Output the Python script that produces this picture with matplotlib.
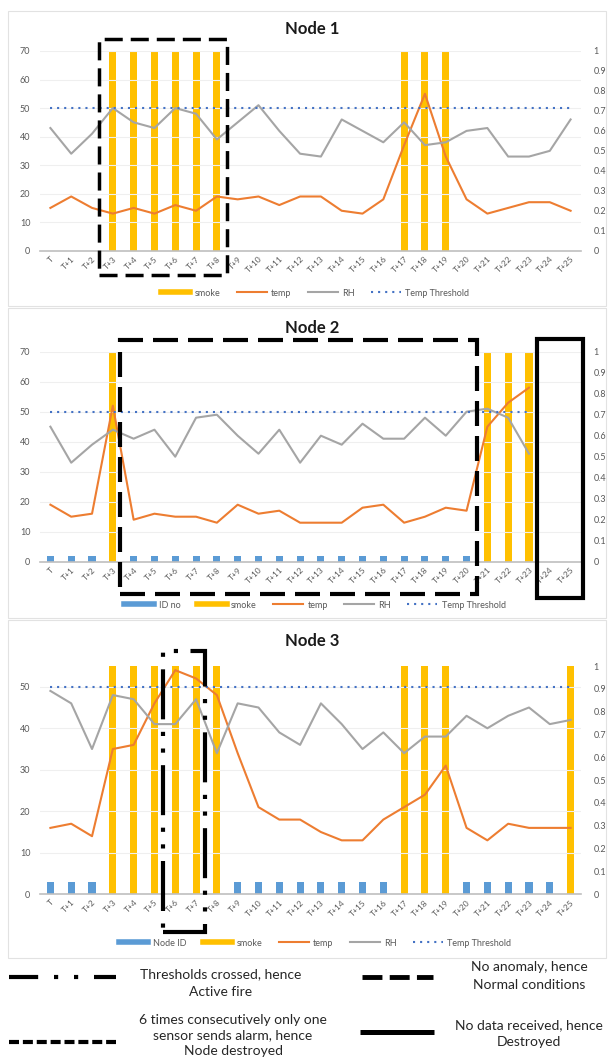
import numpy as np
import matplotlib

matplotlib.use("Agg")
import matplotlib.pyplot as plt
from matplotlib.lines import Line2D
from matplotlib.patches import Rectangle

plt.rcParams["font.family"] = ["Lato", "DejaVu Sans"]

W, H = 608, 1059

LABELS = ["T"] + [f"T+{i}" for i in range(1, 26)]
NAN = np.nan

node1_smoke = [0, 0, 0, 1, 1, 1, 1, 1, 1, 0, 0, 0, 0, 0, 0, 0, 0, 1, 1, 1, 0, 0, 0, 0, 0, 0]
node1_temp = [15, 19, 15, 13, 15, 13, 16, 14, 19, 18, 19, 16, 19, 19, 14, 13, 18, 37, 55, 33, 18, 13, 15, 17, 17, 14]
node1_rh = [43, 34, 41, 50, 45, 43, 50, 48, 39, 45, 51, 42, 34, 33, 46, 42, 38, 45, 37, 38, 42, 43, 33, 33, 35, 46]
node1_thr = [50] * 26

node2_id = [2, 2, 2, 0, 2, 2, 2, 2, 2, 2, 2, 2, 2, 2, 2, 2, 2, 2, 2, 2, 2, 0, 0, 0, 0, 0]
node2_smoke = [0, 0, 0, 1, 0, 0, 0, 0, 0, 0, 0, 0, 0, 0, 0, 0, 0, 0, 0, 0, 0, 1, 1, 1, 0, 0]
node2_temp = [19, 15, 16, 52, 14, 16, 15, 15, 13, 19, 16, 17, 13, 13, 13, 18, 19, 13, 15, 18, 17, 45, 53, 58, NAN, NAN]
node2_rh = [45, 33, 39, 44, 41, 44, 35, 48, 49, 42, 36, 44, 33, 42, 39, 46, 41, 41, 48, 42, 50, 51, 48, 36, NAN, NAN]
node2_thr = [50] * 24 + [NAN, NAN]

node3_id = [3, 3, 3, 0, 0, 0, 0, 0, 0, 3, 3, 3, 3, 3, 3, 3, 3, 0, 0, 0, 3, 3, 3, 3, 3, 0]
node3_smoke = [0, 0, 0, 1, 1, 1, 1, 1, 1, 0, 0, 0, 0, 0, 0, 0, 0, 1, 1, 1, 0, 0, 0, 0, 0, 1]
node3_temp = [16, 17, 14, 35, 36, 46, 54, 52, 48, 34, 21, 18, 18, 15, 13, 13, 18, 21, 24, 31, 16, 13, 17, 16, 16, 16]
node3_rh = [49, 46, 35, 48, 47, 41, 41, 47, 34, 46, 45, 39, 36, 46, 41, 35, 39, 34, 38, 38, 43, 40, 43, 45, 41, 42]
node3_thr = [50] * 26

C_ID = "#5B9BD5"
C_SMOKE = "#FFC000"
C_TEMP = "#ED7D31"
C_RH = "#A5A5A5"
C_THR = "#4472C4"
C_TXT = "#595959"


def fx(px):
    return px / W


def fy(py):
    return 1 - py / H


def rect(left, top, right, bottom):
    return [fx(left), fy(bottom), (right - left) / W, (bottom - top) / H]


def draw_node(fig, title, area, ymax, yticks, smoke, temp, rh, thr, node_id=None, id_label=None,
              title_y=0, legend_y=0):
    x = np.arange(len(LABELS))
    ax = fig.add_axes(rect(*area))
    ax2 = ax.twinx()
    ax.set_zorder(ax2.get_zorder() + 1)
    ax.patch.set_visible(False)

    ax2.bar(x, smoke, width=0.34, color=C_SMOKE, zorder=1)
    if node_id is not None:
        ax.bar(x, node_id, width=0.34, color=C_ID, zorder=2)
    ax.plot(x, temp, color=C_TEMP, lw=1.5, zorder=3)
    ax.plot(x, rh, color=C_RH, lw=1.5, zorder=3)
    ax.plot(x, thr, color=C_THR, lw=1.5, ls=(0, (1, 2.4)), zorder=3)

    ax.set_xlim(-0.5, len(LABELS) - 0.5)
    ax.set_ylim(0, ymax)
    ax2.set_ylim(0, 1)
    ax.set_yticks(yticks)
    ax2.set_yticks(np.round(np.arange(0, 1.01, 0.1), 1))
    ax2.set_yticklabels(["0"] + [f"{v:.1f}" for v in np.arange(0.1, 0.95, 0.1)] + ["1"])
    ax.set_xticks(x)
    ax.set_xticklabels(LABELS, rotation=45, ha="right", rotation_mode="anchor")

    for a in (ax, ax2):
        for side in ("top", "right", "left", "bottom"):
            a.spines[side].set_visible(False)
        a.tick_params(length=0, labelsize=6.5, labelcolor=C_TXT)
    ax.tick_params(axis="y", pad=7)
    ax2.tick_params(axis="y", pad=9)
    ax.tick_params(axis="x", pad=3, labelsize=6)
    ax.spines["bottom"].set_visible(True)
    ax.spines["bottom"].set_color("#BFBFBF")
    ax.spines["bottom"].set_linewidth(1.2)
    ax.yaxis.grid(True, color="#EFEFEF", lw=0.8)
    ax.set_axisbelow(True)

    cx = (area[0] + area[2]) / 2
    fig.text(fx(312), fy(title_y), title, ha="center", va="center", fontsize=12,
             fontweight="bold", color="#1A1A1A")

    handles = []
    names = []
    if node_id is not None:
        handles.append(Line2D([], [], color=C_ID, lw=4))
        names.append(id_label)
    handles += [
        Line2D([], [], color=C_SMOKE, lw=4),
        Line2D([], [], color=C_TEMP, lw=1.5),
        Line2D([], [], color=C_RH, lw=1.5),
        Line2D([], [], color=C_THR, lw=1.5, ls=(0, (1, 2.4))),
    ]
    names += ["smoke", "temp", "RH", "Temp Threshold"]
    fig.legend(handles, names, loc="center", bbox_to_anchor=(fx(315), fy(legend_y)),
               ncol=len(names), frameon=False, fontsize=6.5, labelcolor=C_TXT,
               handlelength=3.3, handletextpad=0.5, columnspacing=1.8)
    return ax


def add_box(ax, x0, x1, y0, y1, style, lw):
    ax.add_patch(Rectangle((x0, y0), x1 - x0, y1 - y0, fill=False, ec="black", lw=lw,
                           ls=style, clip_on=False, zorder=10))


fig = plt.figure(figsize=(W / 100, H / 100), dpi=100)

# panel frames
for top, bottom in [(11, 306), (308, 618), (620, 958)]:
    fig.add_artist(Rectangle((fx(8), fy(bottom)), fx(606) - fx(8), fy(top) - fy(bottom),
                             transform=fig.transFigure, fill=False, ec="#E2E2E2", lw=0.8))

ax1 = draw_node(fig, "Node 1", (40, 51, 581, 250.7), 70, range(0, 71, 10),
                node1_smoke, node1_temp, node1_rh, node1_thr, title_y=29, legend_y=293)
add_box(ax1, 2.33, 8.48, -8.5, 74.2, (0, (5.2, 2.3)), 2.5)

ax2 = draw_node(fig, "Node 2", (40, 351.7, 581, 561.7), 70, range(0, 71, 10),
                node2_smoke, node2_temp, node2_rh, node2_thr, node_id=node2_id, id_label="ID no",
                title_y=328, legend_y=605)
add_box(ax2, 3.34, 20.5, -10.8, 73.9, (0, (6, 2.4)), 3)
add_box(ax2, 23.38, 25.6, -12.1, 74.2, "-", 3)

ax3 = draw_node(fig, "Node 3", (40, 666, 581, 894.3), 55, range(0, 51, 10),
                node3_smoke, node3_temp, node3_rh, node3_thr, node_id=node3_id, id_label="Node ID",
                title_y=641, legend_y=943)
add_box(ax3, 5.4, 7.42, -9.1, 58.6, (0, (12, 3, 1, 3, 1, 3)), 3)

# key for the annotation boxes
def key_line(x0, x1, y, style, lw):
    fig.add_artist(Line2D([fx(x0), fx(x1)], [fy(y), fy(y)], transform=fig.transFigure,
                          color="black", lw=lw, ls=style, solid_capstyle="butt",
                          dash_capstyle="butt"))


key_line(8.5, 116, 977, (0, (7, 3.8, 1, 3.8, 1, 3.8)), 3)
key_line(362, 433, 977, (0, (4.1, 1.5)), 3.5)
key_line(8.5, 116, 1042, (0, (2.4, 0.93)), 3)
key_line(360, 434, 1032, "-", 3.6)

text_kw = dict(ha="center", va="center", fontsize=10, color="#262626")
fig.text(fx(221), fy(974), "Thresholds crossed, hence", **text_kw)
fig.text(fx(221), fy(992), "Active fire", **text_kw)
fig.text(fx(529), fy(967), "No anomaly, hence", **text_kw)
fig.text(fx(529), fy(985), "Normal conditions", **text_kw)
fig.text(fx(233), fy(1020), "6 times consecutively only one", **text_kw)
fig.text(fx(233), fy(1035), "sensor sends alarm, hence", **text_kw)
fig.text(fx(233), fy(1051), "Node destroyed", **text_kw)
fig.text(fx(529), fy(1025), "No data received, hence", **text_kw)
fig.text(fx(529), fy(1042), "Destroyed", **text_kw)

fig.savefig("out.png", dpi=100)
